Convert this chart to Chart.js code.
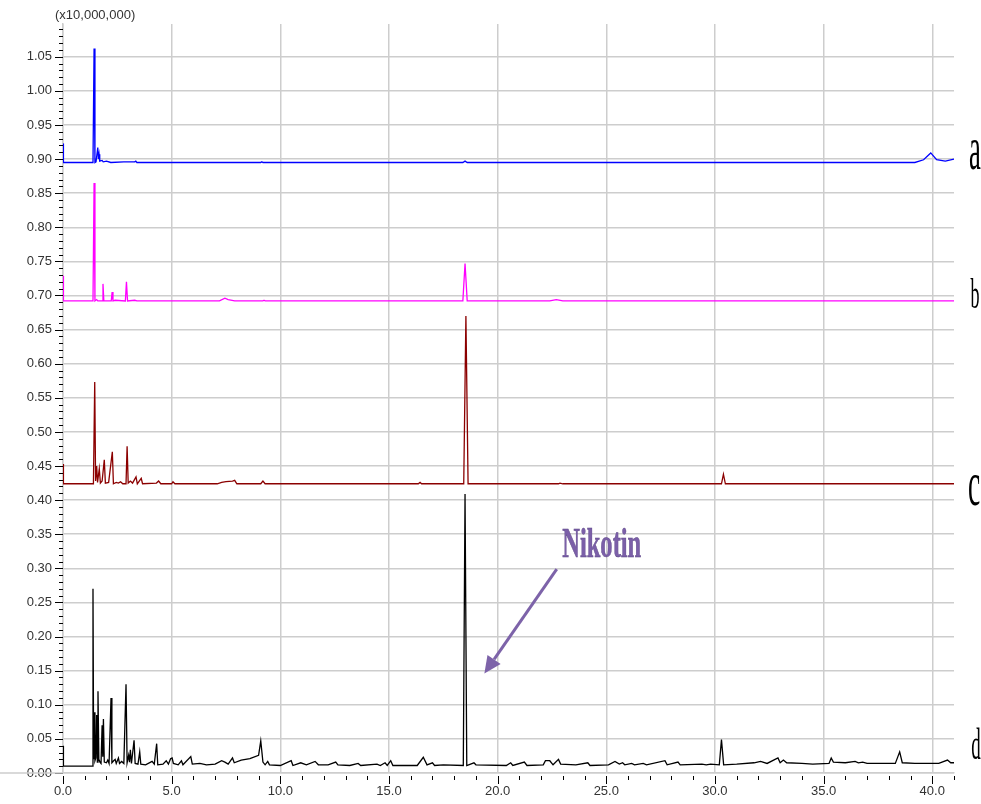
<!DOCTYPE html>
<html>
<head>
<meta charset="utf-8">
<script src="https://cdn.jsdelivr.net/npm/chart.js@4.4.1/dist/chart.umd.min.js"></script>
<style>
  body { margin: 0; background: #fff; }
  canvas { display: block; }
</style>
</head>
<body>
<canvas id="myChart" width="981" height="804"></canvas>
<script>
	// retention time (min) and intensity (x10,000,000) for each trace
	var aTime = [0, 0.02, 1.38, 1.43, 1.47, 1.52, 1.6, 1.63, 1.66, 1.69, 1.8, 1.85, 2.0, 2.2, 2.8, 3.3, 3.35, 3.4, 9.1, 9.15, 9.2, 18.4, 18.5, 18.6, 39.2, 39.6, 39.93, 40.2, 40.6, 41];
	var aSignal = [0.923, 0.895, 0.895, 1.062, 0.895, 0.896, 0.917, 0.900, 0.907, 0.897, 0.898, 0.896, 0.897, 0.895, 0.896, 0.896, 0.897, 0.895, 0.895, 0.896, 0.895, 0.895, 0.897, 0.895, 0.895, 0.899, 0.909, 0.899, 0.897, 0.900];

	var bTime = [0, 0.02, 1.38, 1.43, 1.47, 1.55, 1.6, 1.8, 1.84, 1.88, 2.22, 2.26, 2.3, 2.4, 2.87, 2.92, 2.97, 3.3, 3.4, 7.2, 7.45, 7.6, 7.9, 9.2, 9.25, 9.3, 18.4, 18.5, 18.6, 22.4, 22.7, 23.0, 41];
	var bSignal = [0.729, 0.692, 0.692, 0.865, 0.692, 0.694, 0.692, 0.692, 0.717, 0.692, 0.692, 0.705, 0.692, 0.693, 0.692, 0.720, 0.692, 0.693, 0.692, 0.692, 0.696, 0.694, 0.692, 0.692, 0.693, 0.692, 0.692, 0.747, 0.692, 0.692, 0.694, 0.692, 0.692];

	var cTime = [0, 0.02, 1.4, 1.46, 1.5, 1.55, 1.59, 1.67, 1.72, 1.8, 1.9, 1.95, 2.1, 2.27, 2.32, 2.45, 2.55, 2.65, 2.75, 2.9, 2.95, 3.0, 3.1, 3.2, 3.36, 3.42, 3.6, 3.66, 4.3, 4.4, 4.5, 5.0, 5.06, 5.15, 7.1, 7.3, 7.5, 7.8, 7.9, 8.0, 9.1, 9.2, 9.3, 16.35, 16.43, 16.5, 18.44, 18.54, 18.64, 22.8, 22.87, 23.0, 30.3, 30.39, 30.48, 41];
	var cSignal = [0.453, 0.424, 0.424, 0.573, 0.428, 0.450, 0.426, 0.446, 0.425, 0.428, 0.459, 0.425, 0.426, 0.471, 0.424, 0.426, 0.425, 0.427, 0.424, 0.424, 0.479, 0.425, 0.428, 0.425, 0.434, 0.424, 0.432, 0.424, 0.425, 0.428, 0.424, 0.424, 0.427, 0.424, 0.424, 0.426, 0.427, 0.428, 0.429, 0.424, 0.424, 0.428, 0.424, 0.424, 0.426, 0.424, 0.424, 0.670, 0.424, 0.424, 0.425, 0.424, 0.424, 0.438, 0.424, 0.424];

	var dTime = [0, 0.02, 1.34, 1.38, 1.41, 1.44, 1.47, 1.51, 1.55, 1.58, 1.61, 1.65, 1.7, 1.75, 1.8, 1.83, 1.86, 1.9, 2.0, 2.06, 2.12, 2.21, 2.25, 2.33, 2.4, 2.45, 2.55, 2.6, 2.7, 2.8, 2.9, 2.95, 3.02, 3.06, 3.1, 3.15, 3.27, 3.32, 3.45, 3.53, 3.58, 3.8, 4.1, 4.2, 4.31, 4.36, 4.6, 4.75, 4.85, 4.95, 5.02, 5.08, 5.3, 5.45, 5.52, 5.88, 5.95, 6.3, 6.6, 7.0, 7.3, 7.45, 7.6, 7.8, 7.88, 8.2, 8.6, 9.0, 9.1, 9.2, 9.3, 9.42, 9.5, 10.0, 10.5, 10.58, 10.94, 11.2, 11.6, 11.75, 12.2, 12.55, 12.65, 13.2, 13.58, 13.7, 14.45, 14.6, 14.82, 14.92, 15.08, 15.18, 16.3, 16.58, 16.75, 17.0, 17.1, 17.5, 18.42, 18.5, 18.58, 18.91, 19.0, 20.4, 20.6, 20.7, 21.23, 21.35, 22.1, 22.2, 22.4, 22.55, 22.8, 22.9, 23.6, 24.15, 24.25, 25.1, 25.4, 25.6, 25.75, 25.85, 26.17, 26.3, 26.7, 26.85, 27.7, 27.8, 28.3, 28.4, 29.4, 29.6, 29.8, 30.2, 30.3, 30.4, 31.0, 31.8, 32.1, 32.4, 32.9, 33.0, 33.15, 33.3, 34.0, 34.5, 35.25, 35.35, 35.45, 36.0, 36.45, 36.6, 36.8, 37.0, 38.3, 38.5, 38.62, 39.2, 40.3, 40.7, 40.85, 41];
	var dSignal = [0.040, 0.010, 0.010, 0.270, 0.020, 0.089, 0.018, 0.022, 0.085, 0.016, 0.120, 0.020, 0.016, 0.014, 0.070, 0.024, 0.079, 0.016, 0.015, 0.019, 0.014, 0.110, 0.015, 0.018, 0.020, 0.014, 0.022, 0.014, 0.017, 0.014, 0.130, 0.015, 0.026, 0.016, 0.034, 0.014, 0.048, 0.014, 0.013, 0.031, 0.013, 0.012, 0.017, 0.013, 0.043, 0.012, 0.013, 0.018, 0.013, 0.021, 0.022, 0.014, 0.012, 0.018, 0.012, 0.024, 0.013, 0.014, 0.012, 0.013, 0.018, 0.016, 0.013, 0.022, 0.015, 0.019, 0.021, 0.026, 0.047, 0.016, 0.012, 0.017, 0.012, 0.011, 0.018, 0.011, 0.015, 0.012, 0.017, 0.012, 0.012, 0.016, 0.012, 0.011, 0.014, 0.011, 0.013, 0.011, 0.015, 0.011, 0.018, 0.011, 0.011, 0.023, 0.012, 0.015, 0.011, 0.012, 0.011, 0.409, 0.011, 0.015, 0.012, 0.011, 0.015, 0.011, 0.016, 0.011, 0.012, 0.018, 0.018, 0.012, 0.020, 0.013, 0.012, 0.015, 0.011, 0.012, 0.017, 0.013, 0.015, 0.012, 0.014, 0.012, 0.014, 0.012, 0.018, 0.012, 0.016, 0.012, 0.013, 0.012, 0.013, 0.012, 0.049, 0.012, 0.013, 0.015, 0.017, 0.014, 0.022, 0.015, 0.019, 0.015, 0.014, 0.013, 0.014, 0.022, 0.016, 0.015, 0.017, 0.015, 0.016, 0.014, 0.014, 0.031, 0.015, 0.014, 0.014, 0.019, 0.015, 0.015];

	var xTicks = [0, 5, 10, 15, 20, 25, 30, 35, 40];
	var yTicks = [0, 0.05, 0.10, 0.15, 0.20, 0.25, 0.30, 0.35, 0.40, 0.45, 0.50, 0.55, 0.60, 0.65, 0.70, 0.75, 0.80, 0.85, 0.90, 0.95, 1.00, 1.05];
	var traceNames = ['a', 'b', 'c', 'd'];

	var gridColor = '#cdcdcd';
	var labelFont = '13px "Liberation Sans", Arial, sans-serif';

	function toPoints(times, values) {
		return times.map(function(t, i) {
			return { x : t, y : values[i] };
		});
	}

	// minor ticks, y title, a-d labels, nicotine arrow
	var decorations = {
		id : 'decorations',
		afterDraw : function(chart) {
			var ctx = chart.ctx;
			var xs = chart.scales.x;
			var ys = chart.scales.y;
			var area = chart.chartArea;

			ctx.save();
			ctx.strokeStyle = '#000';
			ctx.lineWidth = 1;
			ctx.beginPath();
			for (var i = 0; i <= 109; i++) {
				var py = Math.round(ys.getPixelForValue(i / 100)) + 0.5;
				var len = (i % 5 === 0) ? 8 : 4;
				ctx.moveTo(area.left - len, py);
				ctx.lineTo(area.left, py);
			}
			for (var j = 0; j <= 41; j++) {
				var px = Math.round(xs.getPixelForValue(j)) + 0.5;
				var l2 = (j % 5 === 0) ? 8 : 4;
				ctx.moveTo(px, area.bottom + 3);
				ctx.lineTo(px, area.bottom + 3 + l2);
			}
			ctx.stroke();

			// grey base line running out to the left edge
			ctx.strokeStyle = gridColor;
			ctx.lineWidth = 1.5;
			ctx.beginPath();
			ctx.moveTo(0, area.bottom);
			ctx.lineTo(area.left, area.bottom);
			ctx.stroke();

			ctx.fillStyle = '#333';
			ctx.font = labelFont;
			ctx.textBaseline = 'middle';
			ctx.textAlign = 'left';
			ctx.fillText('(x10,000,000)', 55, 15);

			// trace letters, condensed serif
			var letterPos = [[975, 153, 62], [975, 297, 42], [974, 488, 64], [976, 747, 44]];
			ctx.fillStyle = '#000';
			ctx.textAlign = 'center';
			traceNames.forEach(function(name, k) {
				var p = letterPos[k];
				ctx.save();
				ctx.translate(p[0], p[1]);
				ctx.scale(0.43, 1);
				ctx.font = p[2] + 'px "Liberation Serif", "Times New Roman", serif';
				ctx.textBaseline = 'middle';
				ctx.fillText(name, 0, 0);
				ctx.restore();
			});

			// Nikotin arrow
			var tx = xs.getPixelForValue(22.72), ty = ys.getPixelForValue(0.299);
			var hx = xs.getPixelForValue(19.39), hy = ys.getPixelForValue(0.146);
			var ang = Math.atan2(hy - ty, hx - tx);
			var headLen = 17, headW = 8;
			var bx = hx - headLen * Math.cos(ang), by = hy - headLen * Math.sin(ang);
			ctx.strokeStyle = '#7d63a9';
			ctx.fillStyle = '#7d63a9';
			ctx.lineWidth = 3;
			ctx.beginPath();
			ctx.moveTo(tx, ty);
			ctx.lineTo(bx, by);
			ctx.stroke();
			ctx.beginPath();
			ctx.moveTo(hx, hy);
			ctx.lineTo(bx + headW * Math.sin(ang), by - headW * Math.cos(ang));
			ctx.lineTo(bx - headW * Math.sin(ang), by + headW * Math.cos(ang));
			ctx.closePath();
			ctx.fill();

			// Nikotin text
			ctx.save();
			ctx.translate(xs.getPixelForValue(24.79), ys.getPixelForValue(0.317));
			ctx.scale(0.57, 1);
			ctx.font = 'bold 43px "Liberation Serif", "Times New Roman", serif';
			ctx.textAlign = 'center';
			ctx.textBaseline = 'alphabetic';
			ctx.fillStyle = '#7b5fa8';
			ctx.fillText('Nikotin', 0, 0);
			ctx.lineWidth = 0.5;
			ctx.strokeStyle = '#5a4482';
			ctx.strokeText('Nikotin', 0, 0);
			ctx.restore();

			ctx.restore();
		}
	};

	function buildChart() {

		const data1 = {
			datasets : [ {
				label : 'a',
				borderColor : '#0000ff',
				data : toPoints(aTime, aSignal),
			}, {
				label : 'b',
				borderColor : '#ff00ff',
				data : toPoints(bTime, bSignal),
			}, {
				label : 'c',
				borderColor : '#8b0000',
				data : toPoints(cTime, cSignal),
			}, {
				label : 'd',
				borderColor : '#000000',
				data : toPoints(dTime, dSignal),
			} ]
		};

		const config = {
			type : 'line',
			data : data1,
			options : {
				responsive : false,
				animation : false,
				parsing : false,
				layout : {
					padding : { top : 24, right : 27, left : 0, bottom : 0 },
				},
				elements : {
					point : { radius : 0 },
					line : { borderWidth : 1.3, tension : 0 },
				},
				plugins : {
					legend : { display : false },
					tooltip : { enabled : false },
				},
				scales : {
					x : {
						type : 'linear',
						min : 0,
						max : 41,
						afterBuildTicks : function(scale) {
							scale.ticks = xTicks.map(function(v) { return { value : v }; });
						},
						afterFit : function(scale) { scale.height = 31; },
						grid : { color : gridColor, lineWidth : 1.5, drawTicks : false },
						border : { color : gridColor, width : 1.5 },
						ticks : {
							color : '#333',
							font : { family : '"Liberation Sans", Arial, sans-serif', size : 13 },
							padding : 11,
							maxRotation : 0,
							callback : function(v) { return v.toFixed(1); },
						},
					},
					y : {
						type : 'linear',
						min : 0,
						max : 1.098,
						afterBuildTicks : function(scale) {
							scale.ticks = yTicks.map(function(v) { return { value : v }; });
						},
						afterFit : function(scale) { scale.width = 63; },
						grid : { color : gridColor, lineWidth : 1.5, drawTicks : false },
						border : { color : gridColor, width : 1.5 },
						ticks : {
							color : '#333',
							font : { family : '"Liberation Sans", Arial, sans-serif', size : 13 },
							padding : 11,
							callback : function(v) { return v.toFixed(2); },
						},
					},
				},
			},
			plugins : [ decorations ],
		}

		var myChart = new Chart(document.getElementById('myChart'), config);

	}

	buildChart();
</script>
</body>
</html>
